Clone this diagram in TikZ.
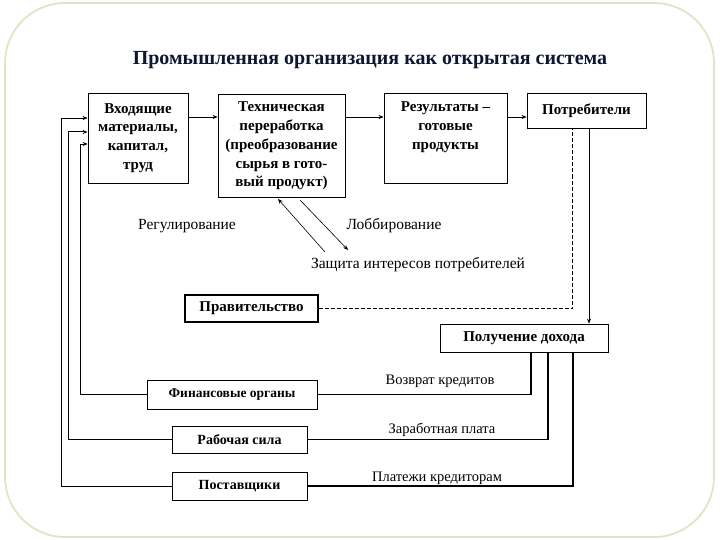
\documentclass[tikz,border=0pt]{standalone}
\usepackage{fontspec}
\setmainfont{Liberation Serif}
\usetikzlibrary{arrows.meta,calc}
\definecolor{framec}{RGB}{228,228,196}
\definecolor{titlec}{RGB}{14,22,48}
\tikzset{
  box/.style={draw, line width=0.8pt, align=center, inner sep=0pt, font=\fontsize{15}{18.8}\selectfont\bfseries},
  sbox/.style={draw, line width=1pt, align=center, inner sep=0pt, font=\fontsize{14}{15}\selectfont\bfseries},
  lbl/.style={inner sep=0pt, font=\fontsize{15.5}{17}\selectfont},
  slbl/.style={inner sep=0pt, font=\fontsize{14.5}{16}\selectfont},
  arr/.style={-{Stealth[length=5pt,width=4pt]}, line width=0.6pt},
  ln/.style={line width=0.6pt},
  tk/.style={line width=1.2pt},
}
\begin{document}
\begin{tikzpicture}[x=1pt,y=-1pt]
\useasboundingbox (0,0) rectangle (720,540);
\draw[framec, line width=1.8pt, fill=white, rounded corners=60pt] (5,3) rectangle (714,537);
\node[font=\fontsize{20}{22}\selectfont\bfseries, text=titlec] (title) at (370,60) {Промышленная организация как открытая система};

\node[box, minimum width=100, minimum height=90] (b1) at (138,138) {Входящие\\материалы,\\капитал,\\труд};
\node[box, minimum width=127, minimum height=103] (b2) at (281.5,146) {Техническая\\переработка\\(преобразование\\сырья в гото-\\вый продукт)};
\node[box, minimum width=123, minimum height=90] (b3) at (445.5,138) {Результаты –\\готовые\\продукты\\\strut};
\node[box, minimum width=119, minimum height=35] (cons) at (586.5,110.5) {Потребители};

\coordinate (ay) at (0,117);
\draw[arr] (b1.east |- ay) -- (b2.west |- ay);
\draw[arr] (b2.east |- ay) -- (b3.west |- ay);
\draw[arr] (b3.east |- ay) -- (cons.west |- ay);

\node[lbl] (reg) at (187,226) {Регулирование};
\node[lbl] (lob) at (394,226) {Лоббирование};
\node[lbl] (zash) at (418,265) {Защита интересов потребителей};

\coordinate (d1a) at (325,252);
\coordinate (d1b) at (278,199);
\coordinate (d2a) at (300,200);
\coordinate (d2b) at (348,250);
\draw[arr] (d1a) -- (d1b);
\draw[arr] (d2a) -- (d2b);

\node[box, line width=1.2pt, minimum width=133, minimum height=27] (gov) at (251.5,308.5) {Правительство};
\node[box, minimum width=168, minimum height=28] (inc) at (524,338) {Получение дохода};

\node[sbox, font=\fontsize{13.5}{15}\selectfont\bfseries, minimum width=170, minimum height=29] (fin) at (232,394.5) {Финансовые органы};
\node[sbox, minimum width=135, minimum height=27] (rab) at (239.5,439.5) {Рабочая сила};
\node[sbox, minimum width=135, minimum height=28] (post) at (239.5,486) {Поставщики};

\draw[ln, dashed, dash pattern=on 4pt off 2pt] (gov.east) -| ($(cons.south west)+(46,0)$);
\draw[arr] ($(cons.south)+(2.5,0)$) -- ($(inc.north)+(65,0)$);

\draw[tk] ($(inc.south)+(7,0)$) |- (fin.east);
\draw[tk] ($(inc.south)+(24,0)$) |- (rab.east);
\draw[tk] ($(inc.south)+(49,0)$) |- (post.east);

\node[slbl] (vk) at (440,381) {Возврат кредитов};
\node[slbl] (zp) at (442,430) {Заработная плата};
\node[slbl] (pk) at (437,478) {Платежи кредиторам};

\coordinate (f1) at (80,144);
\coordinate (f2) at (68,132);
\coordinate (f3) at (61,118);
\draw[arr] (fin.west) -| (f1) -- (b1.west |- f1);
\draw[arr, line width=1pt] (rab.west) -| (f2) -- (b1.west |- f2);
\draw[arr] (post.west) -| (f3) -- (b1.west |- f3);
\end{tikzpicture}
\end{document}
